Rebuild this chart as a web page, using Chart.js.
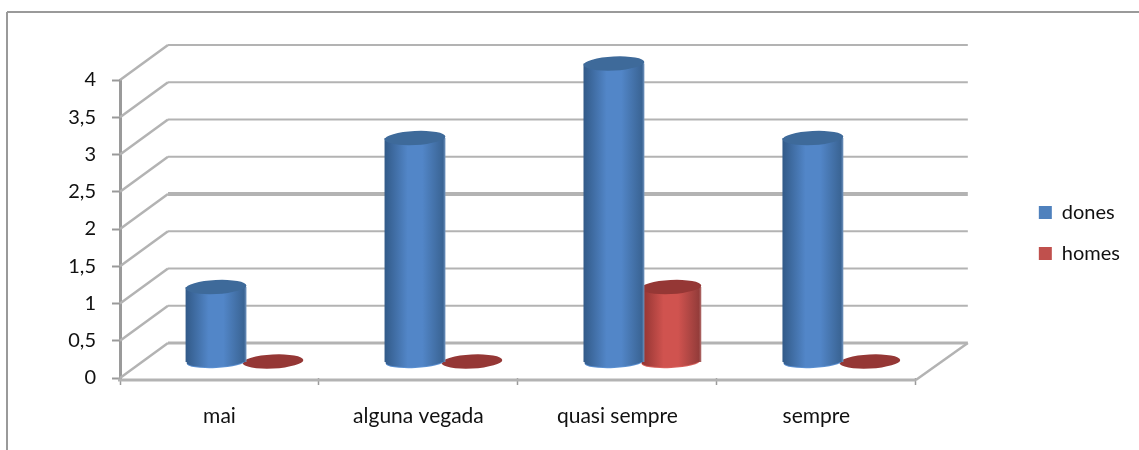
<!DOCTYPE html>
<html>
<head>
<meta charset="utf-8">
<title>dones i homes</title>
<script src="https://cdn.jsdelivr.net/npm/chart.js@4"></script>
<style>
  html, body { margin: 0; padding: 0; background: #fff; overflow: hidden; }
  #wrap { width: 1139px; height: 450px; }
</style>
</head>
<body>
<div id="wrap"><canvas id="chart"></canvas></div>
<script>
// Chart data
const categories = ['mai', 'alguna vegada', 'quasi sempre', 'sempre'];
const dones = [1, 3, 4, 3];
const homes = [0, 0, 1, 0];
const yTickLabels = ['0', '0,5', '1', '1,5', '2', '2,5', '3', '3,5', '4'];

// 3D look: how far the back wall sits from the front of the floor
const DEPTH_X = 48;
const DEPTH_Y = 35;
const GRID_COLOR = '#b3b3b3';
const AXIS_COLOR = '#9a9a9a';
const TEXT_COLOR = '#111';
const FONT = { family: 'Lato', size: 20 };

// dark edge, light middle, dark edge, then the lid colour
const CYLINDER_COLORS = [
  { edge: '#325a88', mid: '#5286c8', right: '#3a6494', lid: '#3e6a9a', rim: '#7396c0', base: '#5b90d2' },
  { edge: '#8c312f', mid: '#d0534f', right: '#943c3a', lid: '#953735', rim: '#b26f6d', base: '#d8605c' }
];

function line(ctx, x1, y1, x2, y2) {
  ctx.beginPath();
  ctx.moveTo(x1, y1);
  ctx.lineTo(x2, y2);
  ctx.stroke();
}

function drawCylinder(ctx, bar, colors) {
  const cx = bar.x + DEPTH_X / 2 + 1;
  const rx = bar.width / 2;
  const top = bar.y - DEPTH_Y / 2 + 1;
  const base = bar.base - DEPTH_Y / 2;
  const tilt = -0.05;

  if (base - top > 1) {
    const grad = ctx.createLinearGradient(cx - rx, 0, cx + rx, 0);
    grad.addColorStop(0, colors.edge);
    grad.addColorStop(0.38, colors.mid);
    grad.addColorStop(0.62, colors.mid);
    grad.addColorStop(0.96, colors.right);
    grad.addColorStop(1, colors.rim);

    ctx.fillStyle = colors.base;
    ctx.beginPath();
    ctx.ellipse(cx, base + 2, rx - 1, 6, tilt, 0, Math.PI * 2);
    ctx.fill();

    ctx.fillStyle = grad;
    ctx.fillRect(cx - rx, top, rx * 2, base + 2 - top);
    ctx.beginPath();
    ctx.ellipse(cx, base + 1, rx - 1, 6, tilt, 0, Math.PI * 2);
    ctx.fill();
  }

  ctx.fillStyle = colors.lid;
  ctx.beginPath();
  ctx.ellipse(cx, top, rx, 7, tilt, 0, Math.PI * 2);
  ctx.fill();
}

const walls3d = {
  id: 'walls3d',
  beforeDraw(chart) {
    // frame of the pasted picture, only top and left survive the crop
    const ctx = chart.ctx;
    ctx.save();
    ctx.strokeStyle = AXIS_COLOR;
    ctx.lineWidth = 2;
    line(ctx, 7, 450, 7, 12);
    line(ctx, 7, 12, 1139, 12);
    ctx.restore();
  },
  beforeDatasetsDraw(chart) {
    const ctx = chart.ctx;
    const y = chart.scales.y;
    const area = chart.chartArea;
    const backLeft = area.left + DEPTH_X;
    const backRight = area.right + DEPTH_X + 4;

    ctx.save();
    ctx.strokeStyle = GRID_COLOR;
    y.ticks.forEach(t => {
      const py = y.getPixelForValue(t.value);
      ctx.lineWidth = 2.5;
      line(ctx, area.left, py, backLeft, py - DEPTH_Y);
      ctx.lineWidth = t.value === 2 ? 4 : t.value === 0 ? 3 : 2;
      line(ctx, backLeft, py - DEPTH_Y, backRight, py - DEPTH_Y);
    });
    // floor
    const floorY = area.bottom + 2;
    ctx.lineWidth = 2.5;
    line(ctx, area.right, floorY, backRight, y.getPixelForValue(0) - DEPTH_Y);
    ctx.lineWidth = 3;
    line(ctx, area.left - 2, floorY, area.right, floorY);
    ctx.restore();
  },
  beforeDatasetDraw(chart, args) {
    const ctx = chart.ctx;
    ctx.save();
    args.meta.data.forEach(bar => drawCylinder(ctx, bar, CYLINDER_COLORS[args.index]));
    ctx.restore();
    return false;
  }
};

new Chart(document.getElementById('chart'), {
  type: 'bar',
  data: {
    labels: categories,
    datasets: [
      { label: 'dones', data: dones, backgroundColor: '#4f81bd', borderWidth: 0 },
      { label: 'homes', data: homes, backgroundColor: '#c0504d', borderWidth: 0 }
    ]
  },
  plugins: [walls3d],
  options: {
    responsive: true,
    maintainAspectRatio: false,
    animation: false,
    categoryPercentage: 0.572,
    barPercentage: 1.07,
    layout: { padding: { left: 0, top: 16, right: 9, bottom: 0 } },
    plugins: {
      tooltip: { enabled: false },
      legend: {
        position: 'right',
        labels: { color: TEXT_COLOR, font: FONT, boxWidth: 13, boxHeight: 13, padding: 21 }
      }
    },
    scales: {
      x: {
        offset: true,
        grid: { offset: true, drawOnChartArea: false, color: AXIS_COLOR, tickLength: 7, tickWidth: 1.5 },
        border: { display: false },
        ticks: { color: TEXT_COLOR, font: { family: 'Lato', size: 21 }, padding: 19, autoSkip: false, maxRotation: 0 },
        afterFit(scale) { scale.height = 72; }
      },
      y: {
        min: 0,
        max: 4,
        grid: { drawOnChartArea: false, color: AXIS_COLOR, tickLength: 8, tickWidth: 2 },
        border: { color: AXIS_COLOR, width: 3 },
        ticks: {
          stepSize: 0.5,
          color: TEXT_COLOR,
          font: FONT,
          padding: 16,
          callback: (v, i) => yTickLabels[i]
        },
        afterFit(scale) { scale.width = 120; }
      },
      // keeps the room the back wall needs between the plot and the legend
      depthGap: {
        type: 'linear',
        axis: 'y',
        position: 'right',
        grid: { display: false },
        border: { display: false },
        ticks: { display: false },
        afterFit(scale) { scale.width = 102; }
      },
      // room above the plot for the back wall, the legend centres without it
      depthTop: {
        type: 'linear',
        axis: 'x',
        position: 'top',
        grid: { display: false },
        border: { display: false },
        ticks: { display: false },
        afterFit(scale) { scale.height = 64; }
      }
    }
  }
});
</script>
</body>
</html>
